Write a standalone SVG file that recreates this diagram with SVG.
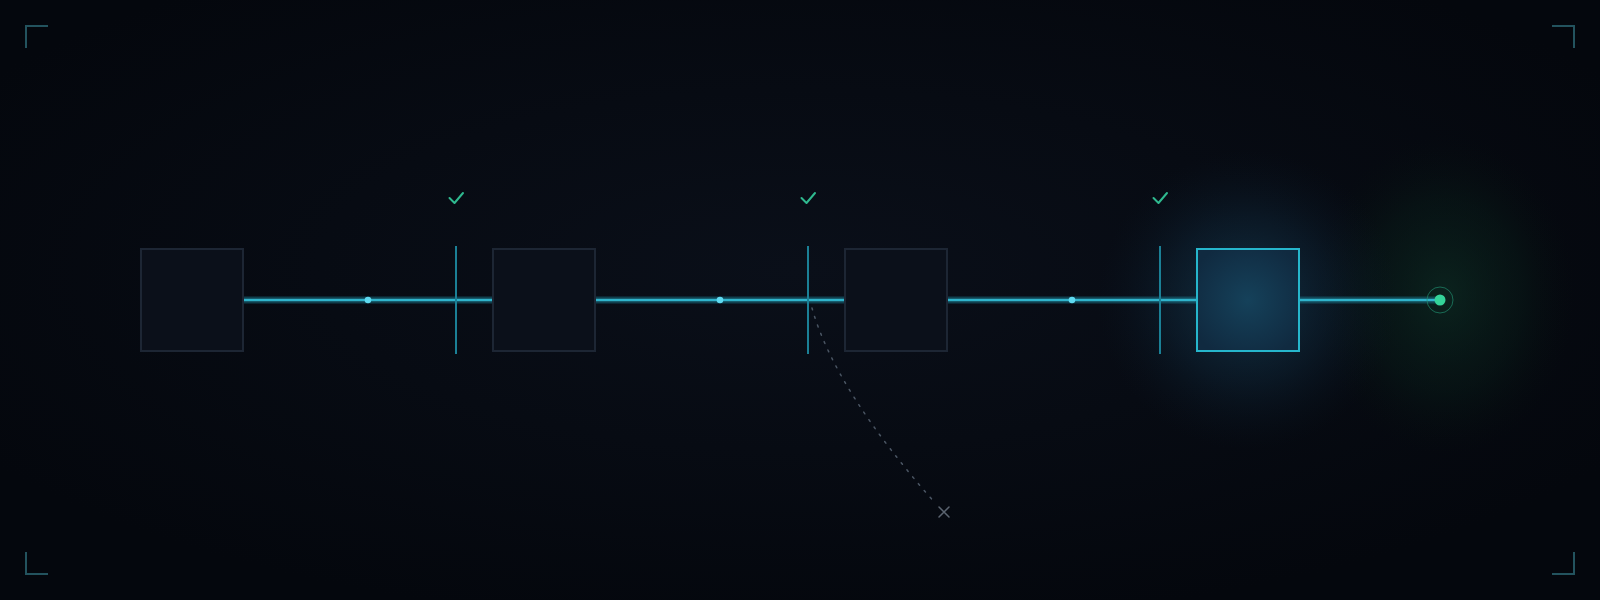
<svg xmlns="http://www.w3.org/2000/svg" width="1600" height="600" viewBox="0 0 1600 600">
<defs>
<radialGradient id="bg" cx="50%" cy="45%" r="60%">
<stop offset="0" stop-color="#0a0f19"/>
<stop offset="1" stop-color="#04070d"/>
</radialGradient>
<radialGradient id="glowBlue" cx="0.5" cy="0.5" r="0.5">
<stop offset="0" stop-color="#1b4d66" stop-opacity="0.65"/>
<stop offset="0.55" stop-color="#12334a" stop-opacity="0.32"/>
<stop offset="1" stop-color="#0a1a28" stop-opacity="0"/>
</radialGradient>
<radialGradient id="glowGreen" cx="0.5" cy="0.5" r="0.5">
<stop offset="0" stop-color="#0e3326" stop-opacity="0.6"/>
<stop offset="0.6" stop-color="#0a261c" stop-opacity="0.3"/>
<stop offset="1" stop-color="#08140f" stop-opacity="0"/>
</radialGradient>
<radialGradient id="activeFill" cx="0.5" cy="0.5" r="0.6">
<stop offset="0" stop-color="#15415a"/>
<stop offset="1" stop-color="#102a40"/>
</radialGradient>
<style>
.box{fill:#0b101a;stroke:#1d2634;stroke-width:2}
.active{fill:url(#activeFill);stroke:#26b6cc;stroke-width:2}
.lineGlow{stroke:#1a6f84;stroke-width:7;stroke-opacity:0.5;fill:none}
.line{stroke:#2fb4cc;stroke-width:2.5;fill:none}
.tick{stroke:#1b8096;stroke-width:2;fill:none}
.check{stroke:#2fb98f;stroke-width:2;fill:none;stroke-linecap:round;stroke-linejoin:round}
.dot{fill:#5fd9f0}
.corner{stroke:#23535e;stroke-width:2;fill:none}
</style>
</defs>
<rect width="1600" height="600" fill="url(#bg)"/>
<ellipse cx="1445" cy="295" rx="130" ry="160" fill="url(#glowGreen)"/>
<circle cx="1248" cy="300" r="150" fill="url(#glowBlue)"/>

<g id="corners">
<path class="corner" d="M26 48V26H48"/>
<path class="corner" d="M1552 26H1574V48"/>
<path class="corner" d="M26 552V574H48"/>
<path class="corner" d="M1552 574H1574V552"/>
</g>

<g id="connectors">
<path class="lineGlow" d="M244 300H492M596 300H844M948 300H1196M1300 300H1440"/>
<path class="line" d="M244 300H492M596 300H844M948 300H1196M1300 300H1436"/>
<path d="M812 308Q835 390 936 504" fill="none" stroke="#4a5563" stroke-width="1.5" stroke-dasharray="2 7" stroke-linecap="round"/>
<circle class="dot" cx="368" cy="300" r="3.3"/>
<circle class="dot" cx="720" cy="300" r="3.3"/>
<circle class="dot" cx="1072" cy="300" r="3.3"/>
</g>

<g id="gate1">
<path class="tick" d="M456 246V354"/>
<path class="check" d="M449.5 198L454.5 203L463 193"/>
</g>
<g id="gate2">
<path class="tick" d="M808 246V354"/>
<path class="check" d="M801.5 198L806.5 203L815 193"/>
</g>
<g id="gate3">
<path class="tick" d="M1160 246V354"/>
<path class="check" d="M1153.5 198L1158.5 203L1167 193"/>
</g>

<g id="node1"><rect class="box" x="141" y="249" width="102" height="102"/></g>
<g id="node2"><rect class="box" x="493" y="249" width="102" height="102"/></g>
<g id="node3"><rect class="box" x="845" y="249" width="102" height="102"/></g>
<g id="node4"><rect class="active" x="1197" y="249" width="102" height="102"/></g>

<g id="end">
<circle cx="1440" cy="300" r="13" fill="none" stroke="#1f8a6c" stroke-width="1" stroke-opacity="0.7"/>
<circle cx="1440" cy="300" r="5.5" fill="#34d399"/>
</g>

<g id="fail">
<path d="M939 507L949 517M949 507L939 517" stroke="#5b6470" stroke-width="1.5" stroke-linecap="round"/>
</g>
</svg>
